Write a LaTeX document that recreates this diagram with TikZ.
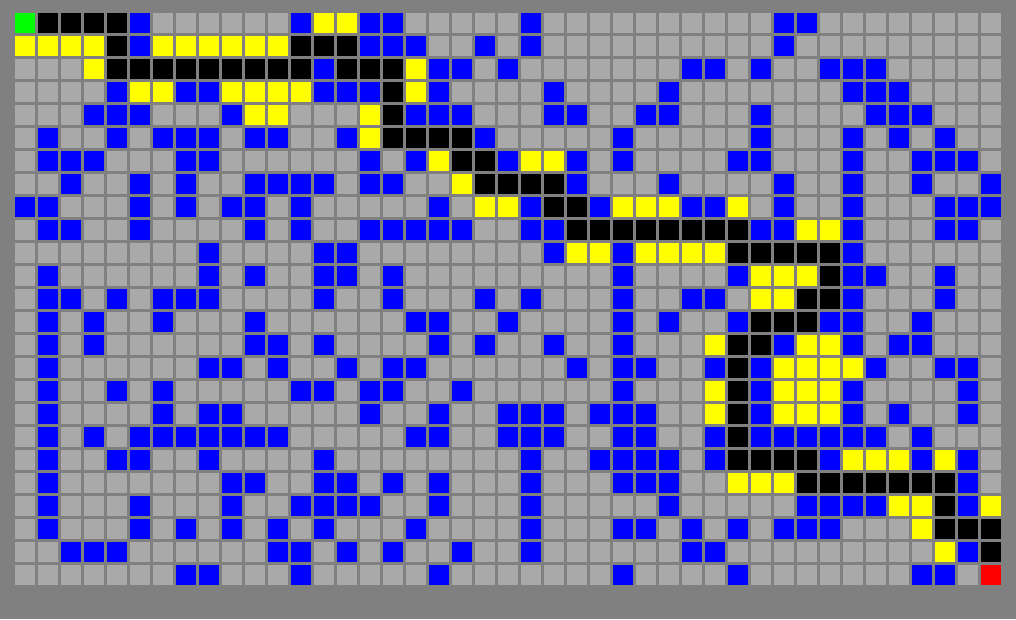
\documentclass[tikz,border=0pt]{standalone}
\usepackage{tikz}
\definecolor{board}{HTML}{808080}
\definecolor{cello}{HTML}{A9A9A9}
\definecolor{cellB}{HTML}{0000FF}
\definecolor{cellY}{HTML}{FFFF00}
\definecolor{cellK}{HTML}{000000}
\definecolor{cellG}{HTML}{00FF00}
\definecolor{cellR}{HTML}{FF0000}
\tikzset{
  % --- one square of the maze
  cell/.style = {draw=none, minimum size=20pt, inner sep=0pt, outer sep=0pt},
}
\begin{document}
\begin{tikzpicture}[x=1pt,y=-1pt]
  \fill[board] (0,0) rectangle (1016,619);
  % o floor, B wall, K path, Y visited, G start, R goal
  \foreach \line [count=\r from 0] in {
    {G,K,K,K,K,B,o,o,o,o,o, o,B,Y,Y,B,B,o,o,o,o,o, B,o,o,o,o,o,o,o,o,o,o, B,B,o,o,o,o,o,o,o,o},
    {Y,Y,Y,Y,K,B,Y,Y,Y,Y,Y, Y,K,K,K,B,B,B,o,o,B,o, B,o,o,o,o,o,o,o,o,o,o, B,o,o,o,o,o,o,o,o,o},
    {o,o,o,Y,K,K,K,K,K,K,K, K,K,B,K,K,K,Y,B,B,o,B, o,o,o,o,o,o,o,B,B,o,B, o,o,B,B,B,o,o,o,o,o},
    {o,o,o,o,B,Y,Y,B,B,Y,Y, Y,Y,B,B,B,K,Y,B,o,o,o, o,B,o,o,o,o,B,o,o,o,o, o,o,o,B,B,B,o,o,o,o},
    {o,o,o,B,B,B,o,o,o,B,Y, Y,o,o,o,Y,K,B,B,B,o,o, o,B,B,o,o,B,B,o,o,o,B, o,o,o,o,B,B,B,o,o,o},
    {o,B,o,o,B,o,B,B,B,o,B, B,o,o,B,Y,K,K,K,K,B,o, o,o,o,o,B,o,o,o,o,o,B, o,o,o,B,o,B,o,B,o,o},
    {o,B,B,B,o,o,o,B,B,o,o, o,o,o,o,B,o,B,Y,K,K,B, Y,Y,B,o,B,o,o,o,o,B,B, o,o,o,B,o,o,B,B,B,o},
    {o,o,B,o,o,B,o,B,o,o,B, B,B,B,o,B,B,o,o,Y,K,K, K,K,B,o,o,o,B,o,o,o,o, B,o,o,B,o,o,B,o,o,B},
    {B,B,o,o,o,B,o,B,o,B,B, o,B,o,o,o,o,o,B,o,Y,Y, B,K,K,B,Y,Y,Y,B,B,Y,o, B,o,o,B,o,o,o,B,B,B},
    {o,B,B,o,o,B,o,o,o,o,B, o,B,o,o,B,B,B,B,B,o,o, B,B,K,K,K,K,K,K,K,K,B, B,Y,Y,B,o,o,o,B,B,o},
    {o,o,o,o,o,o,o,o,B,o,o, o,o,B,B,o,o,o,o,o,o,o, o,B,Y,Y,B,Y,Y,Y,Y,K,K, K,K,K,B,o,o,o,o,o,o},
    {o,B,o,o,o,o,o,o,B,o,B, o,o,B,B,o,B,o,o,o,o,o, o,o,o,o,B,o,o,o,o,B,Y, Y,Y,K,B,B,o,o,B,o,o},
    {o,B,B,o,B,o,B,B,B,o,o, o,o,B,o,o,B,o,o,o,B,o, B,o,o,o,B,o,o,B,B,o,Y, Y,K,K,B,o,o,o,B,o,o},
    {o,B,o,B,o,o,B,o,o,o,B, o,o,o,o,o,o,B,B,o,o,B, o,o,o,o,B,o,B,o,o,B,K, K,K,B,B,o,o,B,o,o,o},
    {o,B,o,B,o,o,o,o,o,o,B, B,o,B,o,o,o,o,B,o,B,o, o,B,o,o,B,o,o,o,Y,K,K, B,Y,Y,B,o,B,B,o,o,o},
    {o,B,o,o,o,o,o,o,B,B,o, B,o,o,B,o,B,B,o,o,o,o, o,o,B,o,B,B,o,o,B,K,B, Y,Y,Y,Y,B,o,o,B,B,o},
    {o,B,o,o,B,o,B,o,o,o,o, o,B,B,o,B,B,o,o,B,o,o, o,o,o,o,B,o,o,o,Y,K,B, Y,Y,Y,B,o,o,o,o,B,o},
    {o,B,o,o,o,o,B,o,B,B,o, o,o,o,o,B,o,o,B,o,o,B, B,B,o,B,B,B,o,o,Y,K,B, Y,Y,Y,B,o,B,o,o,B,o},
    {o,B,o,B,o,B,B,B,B,B,B, B,o,o,o,o,o,B,B,o,o,B, B,B,o,o,B,B,o,o,B,K,B, B,B,B,B,B,o,B,o,o,o},
    {o,B,o,o,B,B,o,o,B,o,o, o,o,B,o,o,o,o,o,o,o,o, B,o,o,B,B,B,B,o,B,K,K, K,K,B,Y,Y,Y,B,Y,B,o},
    {o,B,o,o,o,o,o,o,o,B,B, o,o,B,B,o,B,o,B,o,o,o, B,o,o,o,B,B,B,o,o,Y,Y, Y,K,K,K,K,K,K,K,B,o},
    {o,B,o,o,o,B,o,o,o,B,o, o,B,B,B,B,o,o,B,o,o,o, B,o,o,o,o,o,B,o,o,o,o, o,B,B,B,B,Y,Y,K,B,Y},
    {o,B,o,o,o,B,o,B,o,B,o, B,o,B,o,o,o,B,o,o,o,o, B,o,o,o,B,B,o,B,o,B,o, B,B,B,o,o,o,Y,K,K,K},
    {o,o,B,B,B,o,o,o,o,o,o, B,B,o,B,o,B,o,o,B,o,o, B,o,o,o,o,o,o,B,B,o,o, o,o,o,o,o,o,o,Y,B,K},
    {o,o,o,o,o,o,o,B,B,o,o, o,B,o,o,o,o,o,B,o,o,o, o,o,o,o,B,o,o,o,o,B,o, o,o,o,o,o,o,B,B,o,R}%
  }{
    \foreach \cl [count=\k from 0] in \line
      \node[cell, fill=cell\cl] (c-\r-\k) at ({24.7+23*\k},{22.7+23*\r}) {};
  }
\end{tikzpicture}
\end{document}
